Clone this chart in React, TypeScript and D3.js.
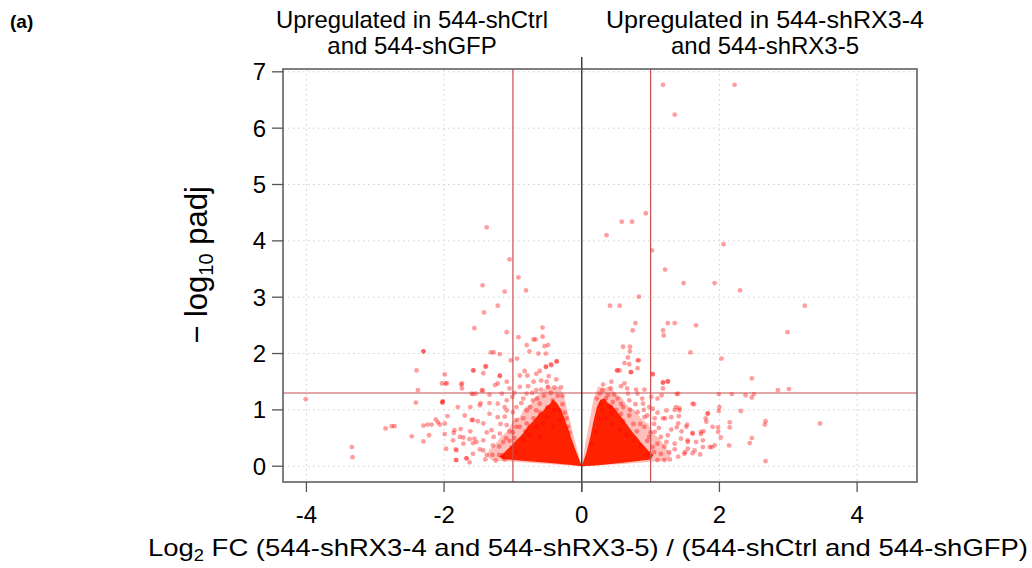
import React from "react";
import * as d3 from "d3";

// Tick labels
const xTicks = [-4, -2, 0, 2, 4];
const yTicks = [0, 1, 2, 3, 4, 5, 6, 7];

// Thresholds
const fcThreshold = 1;
const padjThreshold = 1.3; // -log10(0.05)

// Sparse genes on the left (log2FC, -log10 padj)
const leftSparse: [number, number][] = [
  [-1.38, 4.24], [-1.05, 3.67], [-0.92, 3.35], [-1.44, 3.21], [-1.12, 3.1], [-0.81, 3.12],
  [-1.22, 2.85], [-1.42, 2.73], [-1.56, 2.45], [-1.09, 2.38], [-0.92, 2.29], [-0.57, 2.46],
  [-0.57, 2.3], [-0.7, 2.25], [-0.67, 2.25], [-0.8, 2.15], [-0.54, 2.13], [-0.49, 2.15],
  [-0.76, 2.04], [-0.63, 2.0], [-0.52, 2.0], [-1.32, 2.02], [-1.28, 2.02], [-1.19, 1.99],
  [-1.03, 1.88], [-0.94, 1.91], [-0.36, 1.86], [-0.45, 1.81], [-0.52, 1.76], [-1.4, 1.77],
  [-2.3, 2.04], [-2.3, 2.04], [-2.4, 1.7], [-2.38, 1.35], [-2.41, 1.13], [-4.01, 1.19],
  [-2.03, 1.13], [-2.03, 1.47], [-2.12, 0.83], [-2.09, 0.78], [-2.18, 0.74], [-2.24, 0.74],
  [-2.3, 0.72], [-2.06, 0.74], [-2.85, 0.67], [-2.76, 0.71], [-2.72, 0.71], [-2.47, 0.53],
  [-2.22, 0.55], [-2.3, 0.44], [-3.34, 0.34], [-3.33, 0.16], [-1.57, 1.7], [-1.19, 1.6],
  [-1.58, 1.28], [-1.45, 1.35], [-1.74, 1.47], [-1.74, 1.38], [-1.99, 1.63], [-1.96, 1.47],
  [-2.02, 1.15], [-1.95, 0.89], [-1.76, 0.66], [-1.86, 0.59], [-1.99, 0.57], [-1.83, 0.3],
  [-1.83, 0.11], [-1.67, 0.14], [-1.63, 0.07], [-1.6, 0.82], [-1.51, 0.8], [-1.47, 1.12],
  [-1.58, 0.41], [-1.63, 0.48], [-1.72, 0.51],
];

// Sparse genes on the right
const rightSparse: [number, number][] = [
  [1.18, 6.77], [2.22, 6.77], [1.35, 6.24], [0.93, 4.49], [0.58, 4.34], [0.73, 4.34],
  [0.36, 4.1], [1.02, 3.83], [2.06, 3.94], [1.21, 3.49], [1.48, 3.25], [1.93, 3.25],
  [2.3, 3.12], [0.83, 3.01], [0.41, 2.85], [0.55, 2.85], [3.24, 2.85], [0.78, 2.54],
  [0.74, 2.41], [1.25, 2.54], [1.35, 2.54], [1.66, 2.5], [1.18, 2.41], [1.19, 2.32],
  [2.99, 2.38], [0.6, 2.12], [0.7, 2.12], [0.7, 2.04], [1.58, 2.02], [0.67, 1.93],
  [0.83, 1.88], [2.03, 1.91], [0.51, 1.7], [0.55, 1.7], [0.71, 1.67], [0.81, 1.74],
  [1.03, 1.63], [2.47, 1.56], [1.18, 1.49], [1.25, 1.51], [2.85, 1.35], [3.01, 1.37],
  [2.18, 1.28], [2.38, 1.26], [2.47, 1.22], [2.5, 1.28], [1.99, 1.28], [1.38, 1.28],
  [1.16, 1.26], [1.63, 1.1], [1.37, 1.05], [1.42, 1.03], [1.99, 0.98], [2.31, 0.98],
  [1.83, 0.94], [1.8, 0.85], [1.41, 0.89], [1.21, 0.85], [3.46, 0.76], [2.15, 0.78],
  [2.67, 0.8], [2.66, 0.74], [2.15, 0.69], [1.98, 0.69], [1.38, 0.69], [1.53, 0.74],
  [1.77, 0.62], [1.73, 0.57], [1.61, 0.59], [2.02, 0.51], [2.47, 0.5], [2.44, 0.41],
  [2.14, 0.37], [1.89, 0.34], [1.76, 0.34], [1.54, 0.43], [2.67, 0.09], [1.72, 0.21],
  [1.61, 0.23], [1.5, 0.25],
];

// Denser genes around the left core
const leftCluster: [number, number][] = [
  [-1.58, 1.7], [-1.43, 1.65], [-1.39, 1.77], [-1.19, 1.61], [-1.26, 1.44], [-1.22, 1.47],
  [-1.09, 1.5], [-0.9, 1.61], [-0.83, 1.69], [-0.79, 1.61], [-0.66, 1.64], [-0.61, 1.69],
  [-0.52, 1.77], [-0.44, 1.79], [-0.37, 1.86], [-0.59, 1.52], [-0.51, 1.5], [-0.37, 1.54],
  [-1.98, 1.47], [-1.75, 1.45], [-1.6, 1.29], [-1.54, 1.29], [-1.44, 1.34], [-1.34, 1.27],
  [-1.16, 1.29], [-1.05, 1.38], [-0.9, 1.41], [-0.78, 1.42], [-0.66, 1.35], [-0.59, 1.36],
  [-0.49, 1.41], [-2.02, 1.14], [-1.8, 1.05], [-1.62, 1.05], [-1.48, 1.08], [-1.34, 1.12],
  [-1.22, 1.11], [-1.09, 1.17], [-1.01, 1.23], [-0.85, 1.2], [-0.8, 1.29], [-0.71, 1.17],
  [-0.61, 1.11], [-0.42, 1.17], [-0.32, 0.99], [-1.99, 0.76], [-1.85, 0.64], [-1.77, 0.52],
  [-1.87, 0.46], [-1.58, 0.82], [-1.43, 0.76], [-1.34, 0.93], [-1.22, 0.87], [-1.09, 0.99],
  [-1.0, 0.96], [-0.95, 1.05], [-0.8, 0.99], [-0.66, 0.99], [-0.51, 0.87], [-1.72, 0.4],
  [-1.56, 0.49], [-1.53, 0.43], [-1.43, 0.46], [-1.31, 0.64], [-1.19, 0.58], [-1.09, 0.73],
  [-0.95, 0.7], [-0.8, 0.76], [-0.66, 0.7], [-0.56, 0.76], [-1.97, 0.31], [-1.82, 0.28],
  [-1.82, 0.11], [-1.68, 0.14], [-1.58, 0.22], [-1.43, 0.28], [-1.29, 0.37], [-1.14, 0.43],
  [-1.02, 0.34], [-0.95, 0.25], [-0.85, 0.46], [-0.76, 0.55], [-0.61, 0.52], [-0.42, 0.7],
  [-0.32, 0.82], [-0.22, 0.85], [-0.35, 1.25], [-0.45, 1.3], [-0.55, 1.25], [-0.28, 1.1],
  [-0.4, 1.0], [-0.5, 1.05], [-0.6, 0.95], [-0.7, 0.85], [-0.75, 1.05], [-0.85, 0.85],
  [-0.9, 0.7], [-1.0, 0.6], [-1.1, 0.5], [-1.2, 0.35], [-1.3, 0.2], [-1.15, 0.2],
  [-1.05, 0.45], [-0.65, 1.2], [-0.3, 1.4], [-0.25, 0.95], [-0.2, 0.7], [-0.18, 0.6],
  [-1.12, 0.12], [-1.25, 0.1], [-1.4, 0.12], [-1.05, 0.62], [-0.95, 0.82], [-0.72, 1.3],
  [-1.18, 0.75], [-1.28, 0.52], [-1.38, 0.6], [-1.48, 0.3], [-1.62, 0.62], [-1.7, 0.9],
  [-1.12, 0.88], [-0.88, 1.12], [-0.98, 1.3], [-1.12, 1.05], [-0.4, 1.4], [-0.48, 1.6],
  [-0.28, 1.25], [-0.7, 1.5], [-0.82, 0.62], [-0.98, 0.5], [-1.2, 0.2], [-1.38, 0.2],
];

// Denser genes around the right core
const rightCluster: [number, number][] = [
  [0.62, 1.83], [0.69, 1.81], [0.81, 1.88], [0.52, 1.7], [0.72, 1.67], [1.03, 1.64],
  [0.31, 1.45], [0.43, 1.5], [0.57, 1.42], [0.62, 1.47], [0.79, 1.36], [0.91, 1.36],
  [1.18, 1.48], [1.25, 1.5], [1.18, 1.38], [1.4, 1.29], [0.26, 1.29], [0.38, 1.26],
  [0.47, 1.27], [0.67, 1.29], [0.81, 1.29], [1.01, 1.23], [1.1, 1.2], [0.28, 1.11],
  [0.45, 1.14], [0.57, 1.11], [0.69, 1.17], [0.89, 1.11], [0.98, 1.05], [1.03, 1.02],
  [1.23, 0.99], [1.35, 1.0], [1.42, 0.99], [1.61, 1.11], [1.83, 0.93], [2.0, 1.05],
  [0.43, 0.93], [0.57, 0.93], [0.69, 0.9], [0.81, 0.96], [0.91, 0.87], [1.06, 0.85],
  [1.18, 0.85], [1.3, 0.87], [1.4, 0.76], [1.52, 0.7], [1.61, 0.58], [1.73, 0.61],
  [1.81, 0.79], [1.9, 0.7], [1.98, 0.61], [0.91, 0.7], [1.06, 0.61], [1.15, 0.52],
  [1.23, 0.43], [1.35, 0.4], [1.44, 0.49], [1.54, 0.46], [1.66, 0.43], [1.76, 0.46],
  [1.54, 0.31], [1.64, 0.28], [1.86, 0.34], [1.93, 0.37], [1.03, 0.34], [1.15, 0.22],
  [1.27, 0.25], [1.4, 0.17], [1.1, 0.11], [1.2, 0.11], [1.49, 0.22], [0.3, 1.0],
  [0.35, 0.85], [0.45, 0.75], [0.55, 0.65], [0.65, 0.55], [0.75, 0.45], [0.85, 0.35],
  [0.95, 0.45], [1.0, 0.6], [1.05, 0.75], [0.85, 0.75], [0.75, 0.75], [0.6, 0.8],
  [0.5, 1.0], [0.4, 1.05], [0.95, 0.2], [1.05, 0.25], [0.7, 1.0], [0.9, 1.0],
  [0.25, 0.85], [0.2, 0.6], [0.15, 0.4], [1.1, 0.4], [1.25, 0.55], [1.3, 0.65],
  [1.35, 0.3], [1.1, 0.95], [0.35, 1.2], [0.52, 1.2], [0.78, 1.1], [0.95, 0.9],
  [0.22, 1.2], [0.3, 1.35], [0.42, 1.38], [0.6, 1.05], [0.8, 0.62], [0.98, 0.52],
  [1.12, 0.68], [1.2, 0.35], [1.28, 0.12], [1.45, 0.62], [0.88, 1.2], [0.66, 1.38],
];

// Saturated cores (outline of fully overlapping genes)
const leftCore: [number, number][] = [
  [0, 0], [-0.1, 0.32], [-0.18, 0.6], [-0.25, 0.85], [-0.3, 1.0], [-0.36, 1.12],
  [-0.42, 1.18], [-0.47, 1.1], [-0.52, 1.05], [-0.56, 0.98], [-0.62, 0.93], [-0.67, 0.85],
  [-0.72, 0.78], [-0.78, 0.72], [-0.84, 0.6], [-0.9, 0.52], [-0.96, 0.45], [-1.02, 0.36],
  [-1.08, 0.3], [-1.14, 0.22], [-1.2, 0.17], [-1.15, 0.13], [-0.9, 0.1], [-0.5, 0.06],
  [-0.15, 0.02], [0, 0],
];
const rightCore: [number, number][] = [
  [0, 0], [0.07, 0.25], [0.13, 0.55], [0.18, 0.85], [0.22, 1.05], [0.27, 1.18],
  [0.33, 1.2], [0.38, 1.12], [0.44, 1.08], [0.5, 0.98], [0.56, 0.9], [0.62, 0.8],
  [0.68, 0.7], [0.74, 0.6], [0.8, 0.52], [0.86, 0.42], [0.92, 0.34], [0.98, 0.26],
  [1.04, 0.2], [1.0, 0.12], [0.6, 0.06], [0.2, 0.015], [0, 0],
];

// Dense (partly overlapping) halo around the cores
const leftHalo: [number, number][] = [
  [0, 0], [-0.12, 0.55], [-0.2, 0.95], [-0.26, 1.25], [-0.33, 1.42], [-0.42, 1.38],
  [-0.5, 1.45], [-0.58, 1.3], [-0.66, 1.25], [-0.74, 1.1], [-0.82, 1.05], [-0.9, 0.88],
  [-1.0, 0.8], [-1.08, 0.62], [-1.18, 0.52], [-1.26, 0.38], [-1.34, 0.3], [-1.38, 0.18],
  [-1.3, 0.1], [-1.0, 0.08], [-0.5, 0.04], [0, 0],
];
const rightHalo: [number, number][] = [
  [0, 0], [0.06, 0.45], [0.12, 0.85], [0.17, 1.2], [0.24, 1.42], [0.32, 1.38],
  [0.4, 1.42], [0.5, 1.28], [0.58, 1.22], [0.66, 1.08], [0.76, 1.0], [0.86, 0.85],
  [0.96, 0.75], [1.04, 0.58], [1.14, 0.48], [1.22, 0.32], [1.3, 0.22], [1.24, 0.1],
  [0.6, 0.04], [0, 0],
];

const W = 1032;
const H = 568;
const L = 283, R = 917, T = 69, B = 482;

export default function App() {
  const x = d3.scaleLinear().domain([-4.34, 4.87]).range([L, R]);
  const y = d3.scaleLinear().domain([-0.28, 7.05]).range([B, T]);
  const area = d3
    .line<[number, number]>()
    .x((d) => x(d[0]))
    .y((d) => y(d[1]))
    .curve(d3.curveLinearClosed);

  const font = "'Liberation Sans', Arial, Helvetica, sans-serif";
  const allPts = [...leftCluster, ...rightCluster, ...leftSparse, ...rightSparse];

  return (
    <svg width={W} height={H} style={{ position: "absolute", left: 0, top: 0, background: "#fff" }} fontFamily={font}>
      <text x={10} y={28} fontSize={19} fontWeight="bold">(a)</text>

      {/* titles */}
      <text x={412} y={28} fontSize={24} textAnchor="middle" textLength={272} lengthAdjust="spacingAndGlyphs">Upregulated in 544-shCtrl</text>
      <text x={412} y={54} fontSize={24} textAnchor="middle">and 544-shGFP</text>
      <text x={765} y={28} fontSize={24} textAnchor="middle" textLength={318} lengthAdjust="spacingAndGlyphs">Upregulated in 544-shRX3-4</text>
      <text x={765} y={54} fontSize={24} textAnchor="middle">and 544-shRX3-5</text>

      {/* grid */}
      <g stroke="#cfcfcf" strokeWidth={1} strokeDasharray="1.5,3.5">
        {xTicks.filter((t) => t !== 0).map((t) => (
          <line key={"gx" + t} x1={x(t)} x2={x(t)} y1={T} y2={B} />
        ))}
        {yTicks.map((t) => (
          <line key={"gy" + t} x1={L} x2={R} y1={y(t)} y2={y(t)} />
        ))}
      </g>

      {/* dense regions */}
      <path d={area(leftHalo) || ""} fill="#ff2a1a" fillOpacity={0.3} />
      <path d={area(rightHalo) || ""} fill="#ff2a1a" fillOpacity={0.3} />
      <path d={area(leftCore) || ""} fill="#ff2200" />
      <path d={area(rightCore) || ""} fill="#ff2200" />

      {/* points */}
      <g fill="#ff0000" fillOpacity={0.38}>
        {allPts.map((d, i) => (
          <circle key={i} cx={x(d[0])} cy={y(d[1])} r={2.4} />
        ))}
      </g>

      {/* thresholds */}
      <g stroke="#c85050" strokeWidth={1.2}>
        <line x1={x(-fcThreshold)} x2={x(-fcThreshold)} y1={T} y2={B} />
        <line x1={x(fcThreshold)} x2={x(fcThreshold)} y1={T} y2={B} />
        <line x1={L} x2={R} y1={y(padjThreshold)} y2={y(padjThreshold)} />
      </g>
      <line x1={x(0)} x2={x(0)} y1={57} y2={B + 10} stroke="#333" strokeWidth={1.4} />

      {/* frame */}
      <rect x={L} y={T} width={R - L} height={B - T} fill="none" stroke="#555" strokeWidth={1.5} />

      {/* y axis */}
      <g>
        {yTicks.map((t) => (
          <g key={"yt" + t}>
            <line x1={L - 11} x2={L} y1={y(t)} y2={y(t)} stroke="#555" strokeWidth={1.3} />
            <text x={L - 17} y={y(t) + 8.5} fontSize={24} textAnchor="end">{t}</text>
          </g>
        ))}
      </g>

      {/* x axis */}
      <g>
        {xTicks.map((t) => (
          <g key={"xt" + t}>
            <line x1={x(t)} x2={x(t)} y1={B} y2={B + 10} stroke="#555" strokeWidth={1.3} />
            <text x={x(t)} y={B + 41} fontSize={24} textAnchor="middle">{t}</text>
          </g>
        ))}
      </g>

      {/* axis titles */}
      <text x={588} y={556} fontSize={24} textAnchor="middle" textLength={880} lengthAdjust="spacingAndGlyphs">
        Log<tspan fontSize={16} dy={5}>2</tspan><tspan dy={-5}> FC (544-shRX3-4 and 544-shRX3-5) / (544-shCtrl and 544-shGFP)</tspan>
      </text>
      <text transform="translate(207,265) rotate(-90)" fontSize={31} textAnchor="middle">
        − log<tspan fontSize={20} dy={6}>10</tspan><tspan dy={-6}> padj</tspan>
      </text>
    </svg>
  );
}
